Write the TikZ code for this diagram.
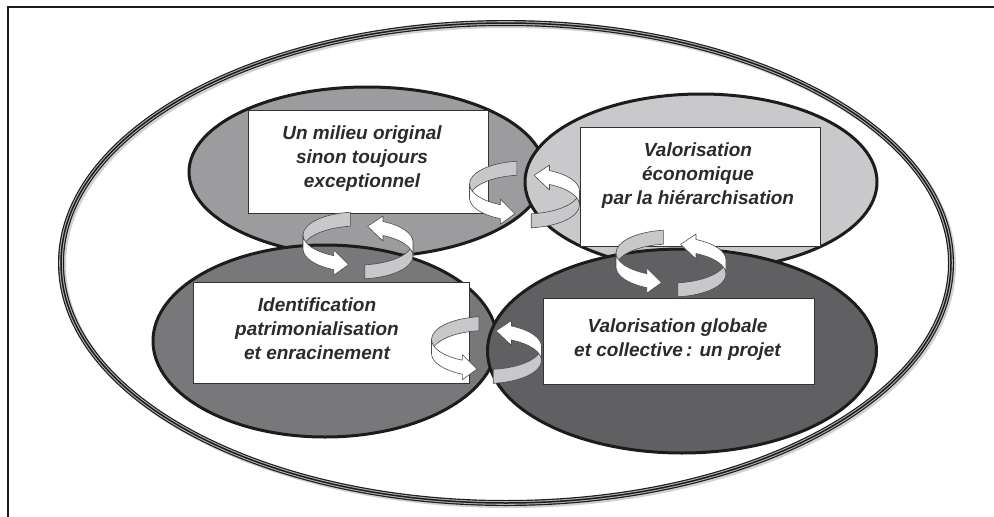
\documentclass[tikz,border=0pt]{standalone}
\usepackage{fontspec}
\setmainfont{Liberation Sans}
\usetikzlibrary{calc,shapes.geometric}
\definecolor{ink}{HTML}{1C1C1C}
\definecolor{toneA}{HTML}{9C9C9F}
\definecolor{toneB}{HTML}{C9C9CB}
\definecolor{toneC}{HTML}{78787B}
\definecolor{toneD}{HTML}{606063}
\definecolor{ribbon}{HTML}{C7C8CA}
\definecolor{wording}{HTML}{2B2B2B}
\tikzset{
  lobe/.style={ellipse,draw=ink,line width=3pt,inner sep=0pt},
  textbox/.style={rectangle,fill=white,draw=black!80,line width=0.8pt,inner sep=0pt},
  wordbox/.style={align=center,text=wording,font=\fontsize{19}{24}\selectfont\bfseries\itshape},
  band/.style={draw=black!70,line width=0.6pt,line join=round}
}
\newcommand{\twist}[5]{%
  \filldraw[band,fill=ribbon] ($(#1)+(#2:55 and 23)+(0,-7)$)
    arc[start angle=#2,end angle=#3,x radius=55,y radius=23] -- ++(0,14)
    arc[start angle=#3,end angle=#2,x radius=55,y radius=23] -- cycle;
  \filldraw[band,fill=white] ($(#1)+(#3:55 and 23)+(0,-7)$)
    arc[start angle=#3,end angle=#4,x radius=55,y radius=23]
    -- ($(#1)+(#4:55 and 23)+(0,-12.5)$) -- ($(#1)+(#5:55 and 23)$)
    -- ($(#1)+(#4:55 and 23)+(0,12.5)$) -- ++(0,-5.5)
    arc[start angle=#4,end angle=#3,x radius=55,y radius=23] -- cycle;
}
\begin{document}
\begin{tikzpicture}[x=1pt,y=-1pt]
\useasboundingbox (0,0) rectangle (994,517);
\draw[ink,line width=1.6pt] (8,517) -- (8,7) -- (994,7);

\draw[black!18,line width=6pt] (508,265) ellipse[x radius=445,y radius=240];
\draw[ink,line width=6pt] (506,263) ellipse[x radius=445,y radius=240];
\draw[black!30,line width=3.6pt] (506,263) ellipse[x radius=445,y radius=240];
\draw[ink,line width=1.5pt] (506,263) ellipse[x radius=445,y radius=240];

\node[lobe,fill=toneA,minimum width=356pt,minimum height=170pt] (milieu) at (367,172) {};
\node[lobe,fill=toneB,minimum width=352pt,minimum height=176pt] (economie) at (701,182) {};
\node[lobe,fill=toneC,minimum width=344pt,minimum height=192pt] (identite) at (325,341) {};
\node[lobe,fill=toneD,minimum width=389pt,minimum height=204pt] (projet) at (682,351) {};

\node[textbox,minimum width=240pt,minimum height=103pt] (milieubox) at (368,161.5) {};
\node[textbox,minimum width=240pt,minimum height=119pt] (economiebox) at (700,186.5) {};
\node[textbox,minimum width=276pt,minimum height=101pt] (identitebox) at (331,332.5) {};
\node[textbox,minimum width=271pt,minimum height=86pt] (projetbox) at (678.5,341) {};

\node[wordbox] (milieutxt) at ([xshift=-6pt,yshift=3pt]milieubox.center) {Un milieu original\\sinon toujours\\exceptionnel};
\node[wordbox] (economietxt) at ([xshift=-2pt,yshift=11pt]economiebox.center) {Valorisation\\économique\\par la hiérarchisation};
\node[wordbox] (identitetxt) at ([xshift=-14pt,yshift=4pt]identitebox.center) {Identification\\patrimonialisation\\et enracinement};
\node[wordbox] (projettxt) at ([xshift=-1pt,yshift=1pt]projetbox.center) {Valorisation globale\\et collective\,: un projet};

\foreach \j/\jx/\jy in {1/358/245.5,2/524.5/194.5,3/671/263.5,4/486.5/350}{
  \coordinate (j\j l) at (\jx,\jy-3.5);
  \coordinate (j\j r) at (\jx,\jy+3.5);
}
\foreach \j in {1,...,4}{
  \twist{j\j l}{-98}{-180}{-244}{-260}
  \twist{j\j r}{83}{0}{-63}{-80}
}
\end{tikzpicture}
\end{document}
